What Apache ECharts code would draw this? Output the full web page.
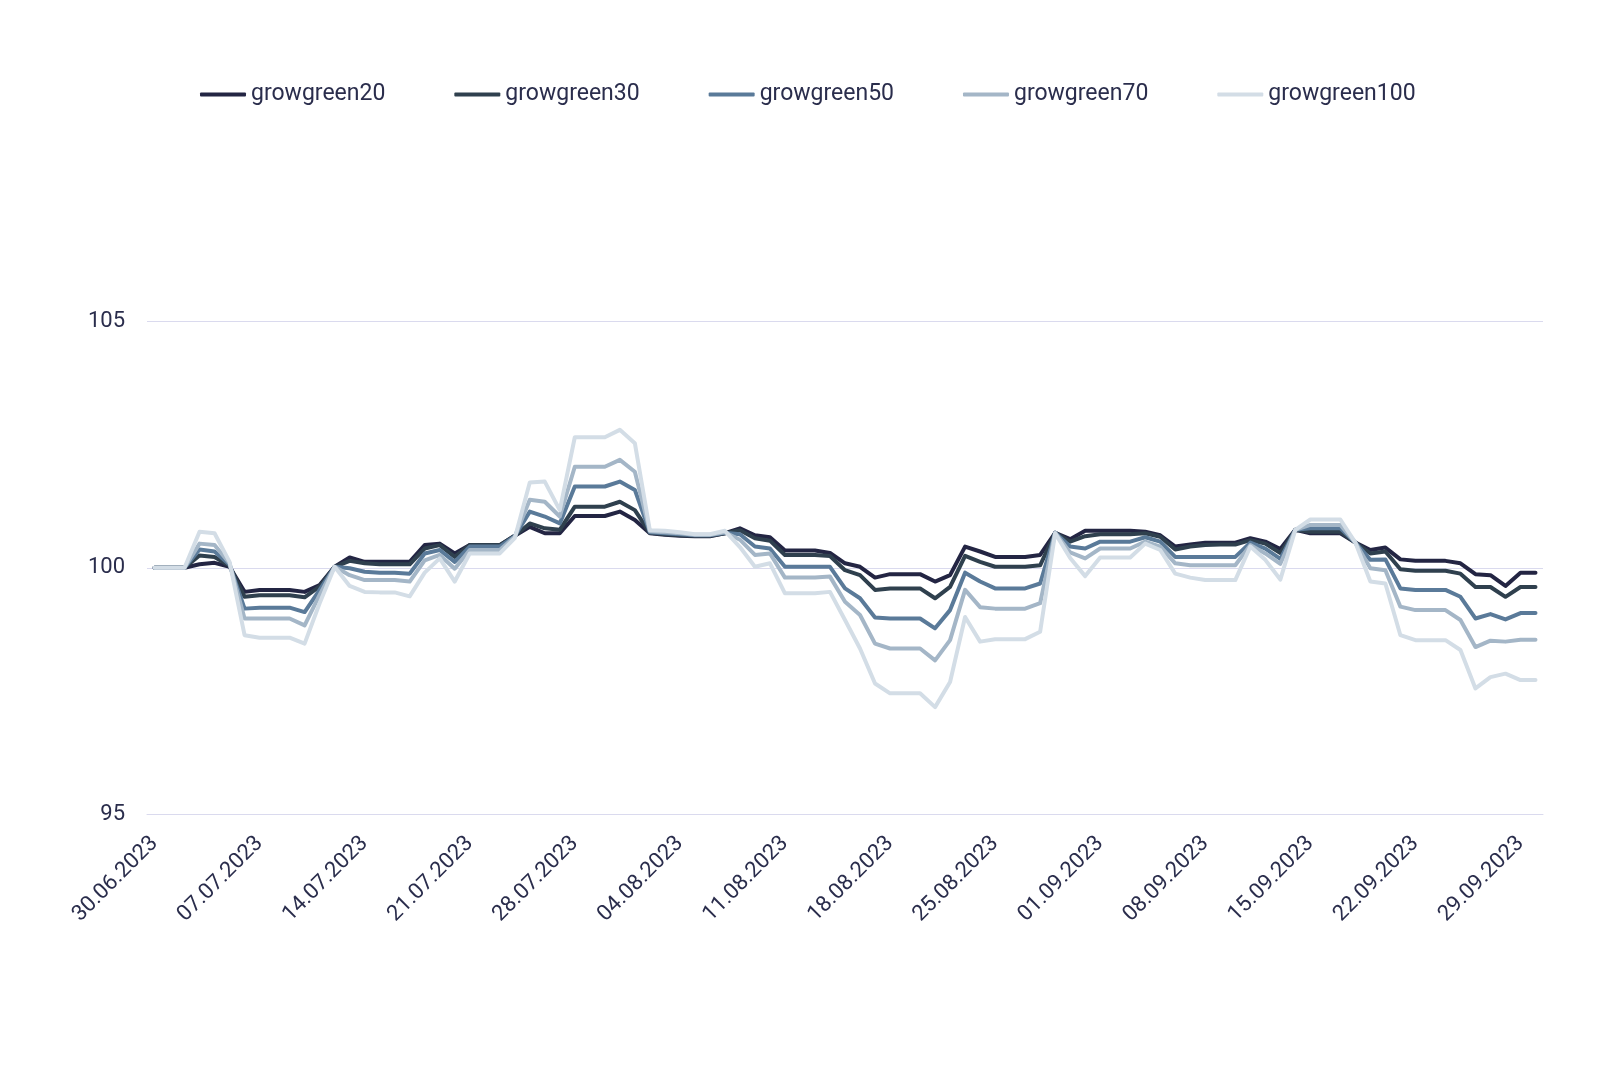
<!DOCTYPE html>
<html>
    <head>
        <meta charset="utf-8">
        <title>growgreen</title>
        <script src="https://cdn.jsdelivr.net/npm/echarts@6/dist/echarts.min.js"></script>
    </head>
    <body>
        <style>
            html, body, #main {
                width: 100%;
                height: 100%;
                margin: 0;
                background: #fff;
            }
        </style>
        <div id="main"></div>
        <script>
            var dates = [
                '30.06.2023', '01.07.2023', '02.07.2023', '03.07.2023', '04.07.2023', '05.07.2023', '06.07.2023',
                '07.07.2023', '08.07.2023', '09.07.2023', '10.07.2023', '11.07.2023', '12.07.2023', '13.07.2023',
                '14.07.2023', '15.07.2023', '16.07.2023', '17.07.2023', '18.07.2023', '19.07.2023', '20.07.2023',
                '21.07.2023', '22.07.2023', '23.07.2023', '24.07.2023', '25.07.2023', '26.07.2023', '27.07.2023',
                '28.07.2023', '29.07.2023', '30.07.2023', '31.07.2023', '01.08.2023', '02.08.2023', '03.08.2023',
                '04.08.2023', '05.08.2023', '06.08.2023', '07.08.2023', '08.08.2023', '09.08.2023', '10.08.2023',
                '11.08.2023', '12.08.2023', '13.08.2023', '14.08.2023', '15.08.2023', '16.08.2023', '17.08.2023',
                '18.08.2023', '19.08.2023', '20.08.2023', '21.08.2023', '22.08.2023', '23.08.2023', '24.08.2023',
                '25.08.2023', '26.08.2023', '27.08.2023', '28.08.2023', '29.08.2023', '30.08.2023', '31.08.2023',
                '01.09.2023', '02.09.2023', '03.09.2023', '04.09.2023', '05.09.2023', '06.09.2023', '07.09.2023',
                '08.09.2023', '09.09.2023', '10.09.2023', '11.09.2023', '12.09.2023', '13.09.2023', '14.09.2023',
                '15.09.2023', '16.09.2023', '17.09.2023', '18.09.2023', '19.09.2023', '20.09.2023', '21.09.2023',
                '22.09.2023', '23.09.2023', '24.09.2023', '25.09.2023', '26.09.2023', '27.09.2023', '28.09.2023',
                '29.09.2023', '30.09.2023'
            ];

            var seriesNames = ['growgreen20', 'growgreen30', 'growgreen50', 'growgreen70', 'growgreen100'];
            var seriesColors = ['#232543', '#2f404e', '#5a7a99', '#a4b6c7', '#d3dde6'];

            var growgreen20 = [
                100, 100, 100, 100.07, 100.10, 100.02, 99.51, 99.55, 99.55, 99.55,
                99.51, 99.65, 100.02, 100.21, 100.12, 100.12, 100.12, 100.12, 100.46, 100.49,
                100.29, 100.46, 100.46, 100.46, 100.65, 100.83, 100.70, 100.70, 101.05, 101.05,
                101.05, 101.14, 100.97, 100.70, 100.67, 100.65, 100.64, 100.64, 100.70, 100.80,
                100.66, 100.62, 100.35, 100.35, 100.35, 100.30, 100.09, 100.02, 99.80, 99.87,
                99.87, 99.87, 99.72, 99.85, 100.43, 100.33, 100.22, 100.22, 100.22, 100.26,
                100.71, 100.58, 100.75, 100.75, 100.75, 100.75, 100.73, 100.66, 100.43, 100.47,
                100.51, 100.51, 100.51, 100.60, 100.53, 100.38, 100.77, 100.70, 100.70, 100.70,
                100.51, 100.36, 100.41, 100.17, 100.14, 100.14, 100.14, 100.09, 99.87, 99.85,
                99.63, 99.90, 99.90
            ];
            var growgreen30 = [
                100, 100, 100, 100.25, 100.22, 100.04, 99.41, 99.44, 99.44, 99.44,
                99.40, 99.62, 100.02, 100.14, 100.09, 100.07, 100.07, 100.07, 100.39, 100.46,
                100.22, 100.46, 100.46, 100.46, 100.65, 100.90, 100.80, 100.77, 101.24, 101.24,
                101.24, 101.34, 101.17, 100.71, 100.68, 100.66, 100.65, 100.65, 100.70, 100.76,
                100.60, 100.55, 100.26, 100.26, 100.26, 100.24, 99.95, 99.85, 99.55, 99.58,
                99.58, 99.58, 99.38, 99.61, 100.24, 100.12, 100.02, 100.02, 100.02, 100.05,
                100.71, 100.53, 100.64, 100.68, 100.68, 100.68, 100.70, 100.63, 100.37, 100.43,
                100.46, 100.47, 100.47, 100.56, 100.49, 100.30, 100.77, 100.73, 100.73, 100.73,
                100.51, 100.29, 100.33, 99.97, 99.94, 99.94, 99.94, 99.88, 99.61, 99.61,
                99.41, 99.61, 99.61
            ];
            var growgreen50 = [
                100, 100, 100, 100.37, 100.33, 100.06, 99.17, 99.19, 99.19, 99.19,
                99.10, 99.55, 100.02, 99.99, 99.92, 99.90, 99.90, 99.88, 100.29, 100.36,
                100.12, 100.43, 100.43, 100.43, 100.64, 101.14, 101.04, 100.90, 101.65, 101.65,
                101.65, 101.75, 101.58, 100.72, 100.70, 100.68, 100.66, 100.66, 100.71, 100.68,
                100.43, 100.39, 100.02, 100.02, 100.02, 100.02, 99.58, 99.38, 98.99, 98.97,
                98.97, 98.97, 98.77, 99.14, 99.90, 99.72, 99.58, 99.58, 99.58, 99.68,
                100.71, 100.43, 100.39, 100.53, 100.53, 100.53, 100.62, 100.53, 100.22, 100.22,
                100.22, 100.22, 100.22, 100.51, 100.39, 100.18, 100.77, 100.80, 100.80, 100.80,
                100.51, 100.16, 100.17, 99.58, 99.55, 99.55, 99.55, 99.41, 98.97, 99.06,
                98.95, 99.08, 99.08
            ];
            var growgreen70 = [
                100, 100, 100, 100.49, 100.46, 100.09, 98.97, 98.97, 98.97, 98.97,
                98.83, 99.45, 100.02, 99.85, 99.75, 99.75, 99.75, 99.72, 100.15, 100.26,
                99.98, 100.36, 100.36, 100.36, 100.63, 101.38, 101.34, 101.04, 102.05, 102.05,
                102.05, 102.19, 101.95, 100.74, 100.72, 100.70, 100.67, 100.67, 100.72, 100.57,
                100.26, 100.29, 99.80, 99.80, 99.80, 99.82, 99.31, 99.04, 98.46, 98.36,
                98.36, 98.36, 98.12, 98.53, 99.55, 99.20, 99.17, 99.17, 99.17, 99.28,
                100.71, 100.31, 100.19, 100.39, 100.39, 100.39, 100.53, 100.43, 100.09, 100.05,
                100.05, 100.05, 100.05, 100.46, 100.29, 100.08, 100.77, 100.87, 100.87, 100.87,
                100.51, 99.99, 99.95, 99.21, 99.14, 99.14, 99.14, 98.94, 98.39, 98.52,
                98.50, 98.54, 98.54
            ];
            var growgreen100 = [
                100, 100, 100, 100.73, 100.70, 100.12, 98.63, 98.58, 98.58, 98.58,
                98.46, 99.28, 100.02, 99.63, 99.51, 99.50, 99.50, 99.42, 99.90, 100.19,
                99.72, 100.29, 100.29, 100.29, 100.60, 101.73, 101.75, 101.17, 102.65, 102.65,
                102.65, 102.80, 102.53, 100.76, 100.75, 100.72, 100.68, 100.68, 100.75, 100.42,
                100.02, 100.09, 99.48, 99.48, 99.48, 99.51, 98.94, 98.36, 97.65, 97.45,
                97.45, 97.45, 97.17, 97.68, 99.00, 98.50, 98.55, 98.55, 98.55, 98.70,
                100.70, 100.20, 99.83, 100.21, 100.21, 100.21, 100.49, 100.36, 99.88, 99.80,
                99.75, 99.75, 99.75, 100.43, 100.16, 99.76, 100.77, 100.98, 100.98, 100.98,
                100.51, 99.72, 99.68, 98.63, 98.53, 98.53, 98.53, 98.33, 97.55, 97.78,
                97.85, 97.72, 97.72
            ];

            var yTicks = [95, 100, 105];

            var seriesData = [growgreen20, growgreen30, growgreen50, growgreen70, growgreen100];
            var textColor = '#2a2d4c';
            var gridColor = '#dadaee';

            var chart = echarts.init(document.getElementById('main'));

            chart.setOption({
                animation: false,
                textStyle: {
                    fontFamily: 'Roboto'
                },
                color: seriesColors,
                legend: {
                    left: 195,
                    top: 78,
                    icon: 'roundRect',
                    itemWidth: 46,
                    itemHeight: 4,
                    itemGap: 69,
                    textStyle: {
                        color: textColor,
                        fontSize: 23,
                        fontFamily: 'Roboto'
                    },
                    data: seriesNames
                },
                grid: {
                    left: 147,
                    right: 57,
                    top: 321.5,
                    bottom: 260
                },
                xAxis: {
                    type: 'category',
                    data: dates,
                    boundaryGap: true,
                    axisLine: {
                        lineStyle: { color: gridColor, width: 1 }
                    },
                    axisTick: {
                        interval: 6,
                        length: 7,
                        lineStyle: { color: gridColor }
                    },
                    axisLabel: {
                        interval: 6,
                        rotate: 45,
                        margin: 26,
                        color: textColor,
                        fontSize: 22,
                        fontFamily: 'Roboto'
                    }
                },
                yAxis: {
                    type: 'value',
                    min: yTicks[0],
                    max: yTicks[yTicks.length - 1],
                    interval: yTicks[1] - yTicks[0],
                    axisLine: { show: false },
                    axisTick: { show: false },
                    axisLabel: {
                        margin: 22,
                        color: textColor,
                        fontSize: 22,
                        fontFamily: 'Roboto'
                    },
                    splitLine: {
                        lineStyle: { color: gridColor, width: 1 }
                    }
                },
                series: seriesNames.map(function (name, i) {
                    return {
                        name: name,
                        type: 'line',
                        data: seriesData[i],
                        symbol: 'none',
                        lineStyle: {
                            width: 4,
                            color: seriesColors[i],
                            cap: 'round',
                            join: 'round'
                        }
                    };
                })
            });

            window.addEventListener('resize', function () {
                chart.resize();
            });
        </script>
    </body>
</html>
